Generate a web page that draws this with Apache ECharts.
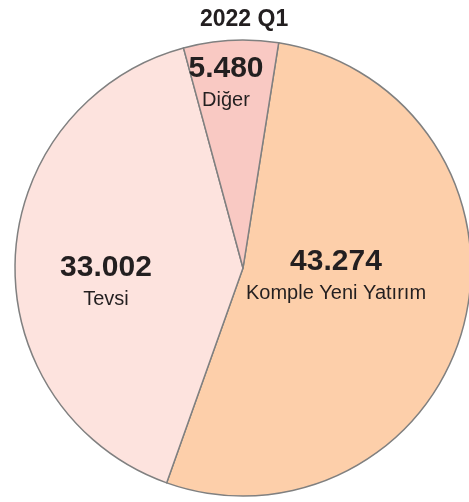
<!DOCTYPE html>
<html>
<head>
<meta charset="utf-8">
<script src="https://cdn.jsdelivr.net/npm/echarts@6/dist/echarts.min.js"></script>
<style>
  html, body { margin: 0; padding: 0; background: #fff; }
  #chart { width: 469px; height: 502px; }
</style>
</head>
<body>
<div id="chart"></div>
<script>
// veriler
var categories = ['Komple Yeni Yatırım', 'Tevsi', 'Diğer'];
var values = [43.274, 33.002, 5.480];
var valueLabels = ['43.274', '33.002', '5.480'];
var colors = ['#fdcfaa', '#fde3de', '#f9c9c3'];
// etiket merkezleri (px)
var labelPos = [[336, 276], [106, 282], [226, 83]];

var chart = echarts.init(document.getElementById('chart'));

var option = {
  animation: false,
  title: {
    text: '2022 Q1',
    left: 195,
    top: 3,
    textStyle: { fontFamily: 'Liberation Sans', fontSize: 23, fontWeight: 'bold', color: '#231f20' }
  },
  series: [{
    type: 'pie',
    center: [243, 268],
    radius: 228,
    startAngle: 81,
    clockwise: true,
    silent: true,
    itemStyle: { borderColor: '#808080', borderWidth: 1.5 },
    label: {
      show: true,
      position: 'inside',
      align: 'center',
      fontFamily: 'Liberation Sans',
      formatter: function (p) {
        return '{v|' + valueLabels[p.dataIndex] + '}\n{n|' + p.name + '}';
      },
      rich: {
        v: { fontFamily: 'Liberation Sans', fontSize: 30, fontWeight: 'bold', color: '#231f20', lineHeight: 35, align: 'center' },
        n: { fontFamily: 'Liberation Sans', fontSize: 20, color: '#231f20', lineHeight: 28, align: 'center' }
      }
    },
    labelLine: { show: false },
    labelLayout: function (p) {
      return { x: labelPos[p.dataIndex][0], y: labelPos[p.dataIndex][1], align: 'center', verticalAlign: 'middle' };
    },
    data: categories.map(function (c, i) {
      return { name: c, value: values[i], itemStyle: { color: colors[i] } };
    })
  }]
};

chart.setOption(option);
</script>
</body>
</html>
